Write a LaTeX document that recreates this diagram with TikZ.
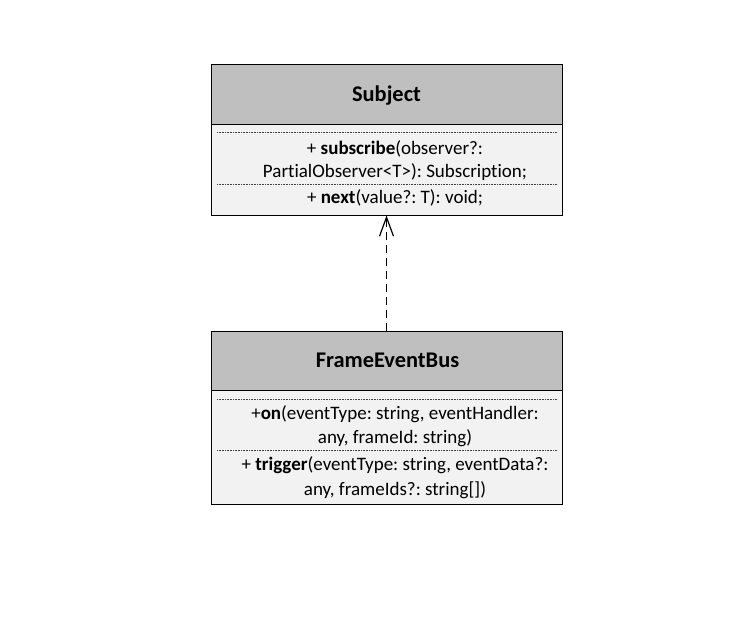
\documentclass[tikz,border=0pt]{standalone}
\usepackage{fontspec}
\setmainfont{Carlito}[Ligatures=NoCommon]
\frenchspacing
\usetikzlibrary{arrows.meta}
\definecolor{headgray}{RGB}{191,191,191}
\definecolor{bodygray}{RGB}{242,242,242}
\begin{document}
\begin{tikzpicture}[x=1pt,y=-1pt,
  headbox/.style={draw=black,line width=1pt,fill=headgray,minimum width=351pt,inner sep=0pt},
  bodybox/.style={draw=black,line width=1pt,fill=bodygray,minimum width=351pt,inner sep=0pt},
  titletext/.style={inner sep=0pt,anchor=base,font=\fontsize{22.4}{27}\selectfont\bfseries},
  linetext/.style={inner sep=0pt,anchor=base,font=\fontsize{19}{24}\selectfont\frenchspacing},
  sep/.style={draw=black!75,line width=0.6pt,dash pattern=on 0.8pt off 0.8pt},
  dep/.style={draw=black,line width=1.3pt,dash pattern=on 8pt off 5pt,-{Straight Barb[length=19pt,width=14pt,line width=1.2pt]}}
]
\useasboundingbox (0,0) rectangle (756,634);
\fill[white] (0,0) rectangle (756,634);

% Subject
\node[headbox,minimum height=60pt] (subjhead) at (386.5,95) {};
\node[bodybox,minimum height=90pt] (subjbody) at (386.5,170) {};
\node[titletext] (subjtitle) at (386.5,101.7) {Subject};
\coordinate (s1a) at (217,132.5);
\coordinate (s1b) at (557,132.5);
\coordinate (s2a) at (217,184);
\coordinate (s2b) at (557,184);
\draw[sep] (s1a) -- (s1b);
\draw[sep] (s2a) -- (s2b);
\node[linetext] (subjl1) at (395,154.3) {+ \textbf{subscribe}(observer?:};
\node[linetext] (subjl2) at (395,178) {PartialObserver<T>): Subscription;};
\node[linetext] (subjl3) at (395,203.3) {+ \textbf{next}(value?: T): void;};

% FrameEventBus
\node[headbox,minimum height=59pt] (bushead) at (386.5,360.5) {};
\node[bodybox,minimum height=114pt] (busbody) at (386.5,447) {};
\node[titletext] (bustitle) at (387.5,367.7) {FrameEventBus};
\coordinate (b1a) at (217,399);
\coordinate (b1b) at (557,399);
\coordinate (b2a) at (217,450);
\coordinate (b2b) at (557,450);
\draw[sep] (b1a) -- (b1b);
\draw[sep] (b2a) -- (b2b);
\node[linetext] (busl1) at (395,419.3) {+\textbf{on}(eventType: string, eventHandler:};
\node[linetext] (busl2) at (395,443.5) {any, frameId: string)};
\node[linetext] (busl3) at (395,470.7) {+ \textbf{trigger}(eventType: string, eventData?:};
\node[linetext] (busl4) at (395,495) {any, frameIds?: string[])};

% dependency
\draw[dep] (bushead.north) -- (subjbody.south);
\end{tikzpicture}
\end{document}
